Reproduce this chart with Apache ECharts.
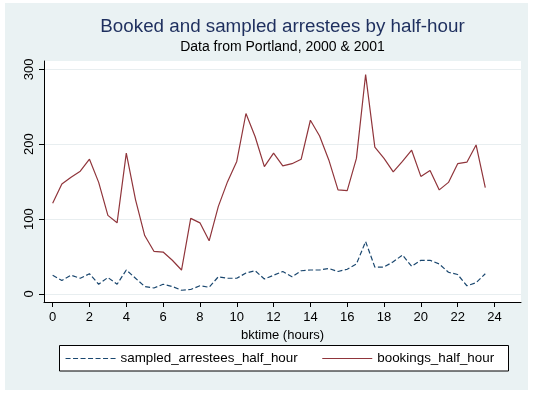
<!DOCTYPE html>
<html>
<head>
<meta charset="utf-8">
<script src="https://cdn.jsdelivr.net/npm/echarts@6/dist/echarts.min.js"></script>
<style>
html,body{margin:0;padding:0;background:#fff;}
#c{width:540px;height:395px;}
</style>
</head>
<body>
<div id="c"></div>
<script>
var titleText = 'Booked and sampled arrestees by half-hour';
var subtitleText = 'Data from Portland, 2000 & 2001';
var xTitle = 'bktime (hours)';
var hours = [0,0.5,1,1.5,2,2.5,3,3.5,4,4.5,5,5.5,6,6.5,7,7.5,8,8.5,9,9.5,10,10.5,11,11.5,
             12,12.5,13,13.5,14,14.5,15,15.5,16,16.5,17,17.5,18,18.5,19,19.5,20,20.5,21,21.5,22,22.5,23,23.5];
var sampled = [25,18,25,21,27,13,22,13,32,21,10,8,13,10,5,6,11,9,23,21,21,28,31,20,
               25,30,23,31,32,32,34,30,33,40,70,36,36,43,52,37,45,45,40,29,26,11,15,27];
var bookings = [121,147,156,164,180,149,105,95,188,126,78,57,56,45,32,101,95,71,117,150,177,241,210,170,
                188,171,174,180,232,211,179,139,138,181,293,196,181,163,177,192,157,165,139,149,174,176,199,142];
var xTicks = [0,2,4,6,8,10,12,14,16,18,20,22,24];
var yTicks = [0,100,200,300];
var seriesNames = ['sampled_arrestees_half_hour','bookings_half_hour'];

function pairs(xs, ys){ return xs.map(function(x,i){ return [x, ys[i]]; }); }

var FONT = "'Liberation Sans', Arial, sans-serif";
var chart = echarts.init(document.getElementById('c'), null, {renderer:'canvas'});
chart.setOption({
  animation: false,
  backgroundColor: '#ffffff',
  textStyle: {fontFamily: FONT},
  graphic: [
    {type:'rect', z:-10, silent:true, shape:{x:5,y:3,width:523,height:387}, style:{fill:'#eaf2f3'}},
    {type:'rect', z:-5, silent:true, shape:{x:44,y:61,width:477,height:241}, style:{fill:'#ffffff'}},
    {type:'rect', z:-1, silent:true, shape:{x:59.5,y:345.5,width:449,height:25.5}, style:{fill:'#ffffff', stroke:'#000', lineWidth:1}},
    {type:'text', silent:true, x:282.5, y:27, style:{text:titleText, fill:'#1e2f5e', font:'18.8px ' + FONT, textAlign:'center', textVerticalAlign:'middle'}},
    {type:'text', silent:true, x:282.5, y:47, style:{text:subtitleText, fill:'#000', font:'14px ' + FONT, textAlign:'center', textVerticalAlign:'middle'}}
  ],
  legend: {
    left: 65, top: 352, padding: 0, itemGap: 24, itemWidth: 50, itemHeight: 10,
    itemStyle: {opacity: 0},
    lineStyle: {width: 1.1},
    textStyle: {fontSize: 13.4, color: '#000', fontFamily: FONT},
    data: seriesNames
  },
  grid: {left: 44, top: 61, width: 477, height: 241, containLabel: false},
  xAxis: {
    type: 'value', min: -0.47, max: 25.44,
    name: xTitle, nameLocation: 'middle', nameGap: 25,
    nameTextStyle: {fontSize: 13, color: '#000'},
    axisLine: {show: true, onZero: false, lineStyle: {color: '#000', width: 1}},
    axisTick: {show: true, length: 5, lineStyle: {color: '#000'}, customValues: xTicks},
    axisLabel: {fontSize: 13, color: '#000', margin: 9, customValues: xTicks},
    splitLine: {show: false}
  },
  yAxis: {
    type: 'value', min: -10.7, max: 311.1,
    axisLine: {show: true, onZero: false, lineStyle: {color: '#000', width: 1}},
    axisTick: {show: true, length: 5, lineStyle: {color: '#000'}, customValues: yTicks},
    axisLabel: {fontSize: 13, color: '#000', rotate: 90, margin: 8, customValues: yTicks},
    splitLine: {show: true, lineStyle: {color: '#e8eef0', width: 1}}
  },
  series: [
    {name: seriesNames[0], type: 'line', data: pairs(hours, sampled), symbol: 'none',
     lineStyle: {color: '#1a476f', width: 1.2, type: [5,2.5]}, itemStyle: {color: '#1a476f'}},
    {name: seriesNames[1], type: 'line', data: pairs(hours, bookings), symbol: 'none',
     lineStyle: {color: '#90353b', width: 1.2}, itemStyle: {color: '#90353b'}}
  ]
});
</script>
</body>
</html>
